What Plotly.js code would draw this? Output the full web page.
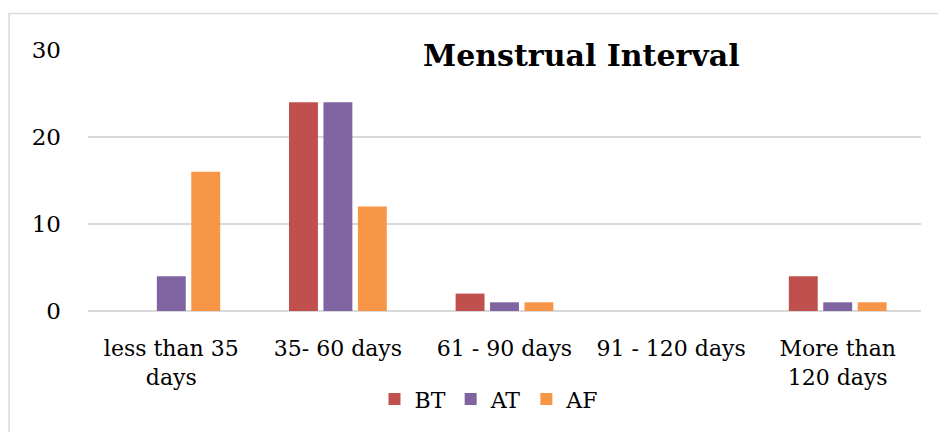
<!DOCTYPE html>
<html><head><meta charset="utf-8">
<script src="https://cdn.plot.ly/plotly-3.0.1.min.js"></script>
<style>html,body{margin:0;padding:0;background:#fff}#chart{width:938px;height:432px}</style>
</head><body><div id="chart"></div>
<script>
const categories = ['less than 35<br>days', '35- 60 days', '61 - 90 days', '91 - 120 days', 'More than<br>120 days'];
const seriesNames = ['BT', 'AT', 'AF'];
const BT = [0, 24, 2, 0, 4];
const AT = [4, 24, 1, 0, 1];
const AF = [16, 12, 1, 0, 1];
const colors = ['#C0504D', '#8064A2', '#F79646'];
const yTicks = [0, 10, 20, 30];

const font = 'DejaVu Serif, Liberation Serif, serif';
const traces = [BT, AT, AF].map((v, i) => ({
  type: 'bar', name: seriesNames[i], x: categories, y: v,
  marker: {color: colors[i]}, hoverinfo: 'none'
}));

const layout = {
  width: 938, height: 432,
  margin: {l: 88, r: 17, t: 50, b: 118},
  paper_bgcolor: '#fff', plot_bgcolor: '#fff',
  barmode: 'group', bargap: 0.38, bargroupgap: 0.16,
  font: {family: font, size: 22, color: '#000'},
  xaxis: {type: 'category', showgrid: false, zeroline: false, showline: false, ticks: '',
          ticklabelstandoff: 22, tickfont: {size: 22}},
  yaxis: {range: [0, 30], tickvals: yTicks, showgrid: true, gridcolor: '#d9d9d9', gridwidth: 1.5,
          zeroline: true, zerolinecolor: '#d9d9d9', zerolinewidth: 1.5, showline: false, ticks: '',
          ticklabelstandoff: 26, tickfont: {size: 23}},
  legend: {orientation: 'h', x: 0.482, xanchor: 'center', y: -0.338, yanchor: 'middle',
           font: {size: 22}, itemwidth: 20, traceorder: 'normal'},
  showlegend: true,
  annotations: [{text: '<b>Menstrual Interval</b>', xref: 'paper', yref: 'paper',
                 x: 0.592, y: 0.98, xanchor: 'center', yanchor: 'middle', showarrow: false,
                 bgcolor: '#fff', font: {size: 30, family: font, color: '#000'}}],
  shapes: [{type: 'rect', xref: 'paper', yref: 'paper', x0: -0.0948, x1: 1.1, y0: -0.6, y1: 1.14,
            line: {color: '#d9d9d9', width: 1.5}, layer: 'below'}]
};
Plotly.newPlot('chart', traces, layout, {staticPlot: true});
</script></body></html>
